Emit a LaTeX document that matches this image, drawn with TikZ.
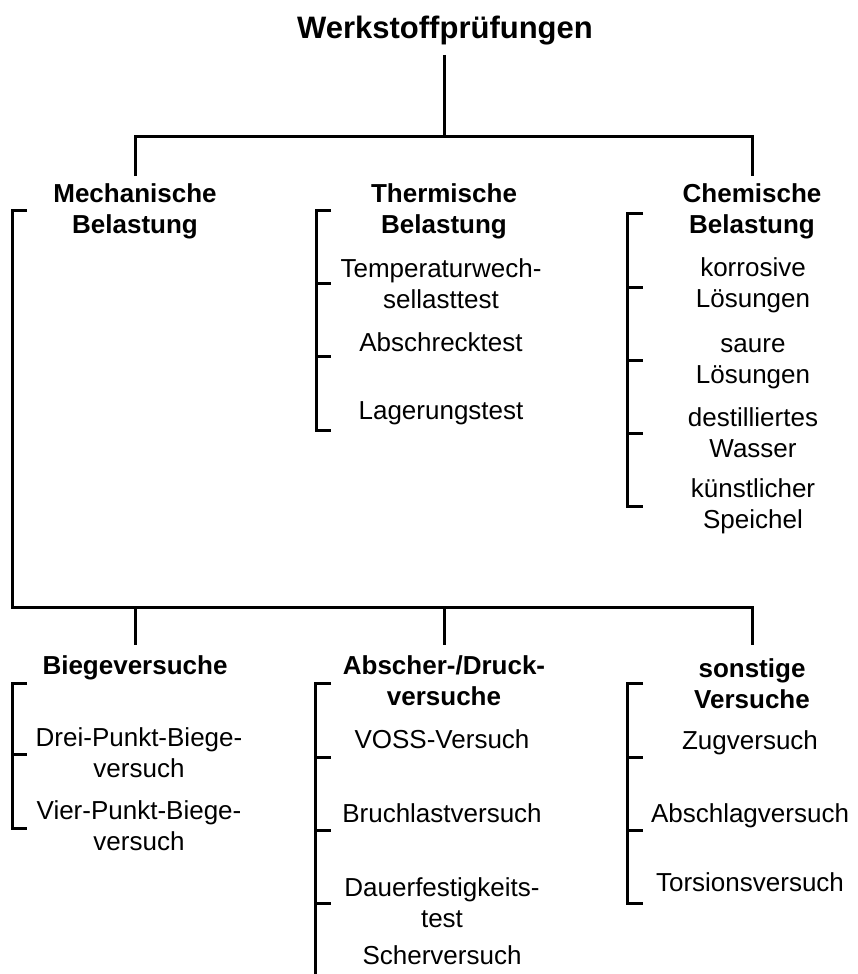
\documentclass[tikz,border=0pt]{standalone}
\usepackage{fontspec}
\setmainfont{Liberation Sans}
\begin{document}
\begin{tikzpicture}[x=1pt,y=-1pt,
  line/.style={line width=3pt,line join=miter,line cap=butt},
  txt/.style={anchor=base,inner sep=0pt,align=center,font=\fontsize{26}{31}\selectfont},
  head/.style={txt,font=\fontsize{26}{31}\selectfont\bfseries},
  ttl/.style={anchor=base,inner sep=0pt,font=\fontsize{31}{36}\selectfont\bfseries}]
\useasboundingbox (0,0) rectangle (858,974);
% title
\node[ttl] (title) at (445,38) {Werkstoffprüfungen};
% headings (base anchor = baseline of last line)
\node[head] (mech) at (135,233) {Mechanische\\Belastung};
\node[head] (therm) at (444,233) {Thermische\\Belastung};
\node[head] (chem) at (752,233) {Chemische\\Belastung};
\node[head] (biege) at (135,674) {Biegeversuche};
\node[head] (absch) at (444,705) {Abscher-/Druck-\\versuche};
\node[head] (sonst) at (752,708) {sonstige\\Versuche};
% thermische
\node[txt] (t1) at (441,308) {Temperaturwech-\\sellasttest};
\node[txt] (t2) at (441,351) {Abschrecktest};
\node[txt] (t3) at (441,419) {Lagerungstest};
% chemische
\node[txt] (c1) at (753,307) {korrosive\\Lösungen};
\node[txt] (c2) at (753,383) {saure\\Lösungen};
\node[txt] (c3) at (753,457) {destilliertes\\Wasser};
\node[txt] (c4) at (753,528) {künstlicher\\Speichel};
% biege
\node[txt] (b1) at (139,777) {Drei-Punkt-Biege-\\versuch};
\node[txt] (b2) at (139,850) {Vier-Punkt-Biege-\\versuch};
% abscher
\node[txt] (a1) at (442,748) {VOSS-Versuch};
\node[txt] (a2) at (442,822) {Bruchlastversuch};
\node[txt] (a3) at (442,927) {Dauerfestigkeits-\\test};
\node[txt] (a4) at (442,964) {Scherversuch};
% sonstige
\node[txt] (s1) at (750,749) {Zugversuch};
\node[txt] (s2) at (750,822) {Abschlagversuch};
\node[txt] (s3) at (750,891) {Torsionsversuch};
% junction coordinates
\coordinate (top) at (444,55);
\coordinate (j0) at (444,136);
\coordinate (jl) at (135,136);
\coordinate (jr) at (752,136);
\coordinate (ml) at (135,176);
\coordinate (mr) at (752,176);
% upper tree
\draw[line] (top) -- (j0);
\draw[line] (ml) -- (jl) -- (jr) -- (mr);
% mechanische bracket and lower tree
\coordinate (mk) at (27,210);
\coordinate (mc) at (12,210);
\coordinate (mb) at (12,607);
\coordinate (lr) at (752,607);
\coordinate (lre) at (752,645);
\coordinate (lm) at (444,607);
\coordinate (lme) at (444,645);
\coordinate (ll) at (135,607);
\coordinate (lle) at (135,645);
\draw[line] (mk) -- (mc) -- (mb) -- (lr) -- (lre);
\draw[line] (lm) -- (lme);
\draw[line] (ll) -- (lle);
% thermische bracket
\draw[line] (331,210) -- (316,210) -- (316,430) -- (331,430);
\draw[line] (316,283) -- (331,283);
\draw[line] (316,356) -- (331,356);
% chemische bracket
\draw[line] (643,213) -- (627,213) -- (627,506) -- (643,506);
\foreach \y in {287,360,433} \draw[line] (627,\y) -- (643,\y);
% biege bracket
\draw[line] (27,683) -- (12,683) -- (12,828) -- (27,828);
\draw[line] (12,754) -- (27,754);
% abscher bracket
\draw[line] (331,683) -- (315,683) -- (315,976);
\foreach \y in {757,830,903} \draw[line] (315,\y) -- (331,\y);
% sonstige bracket
\draw[line] (643,683) -- (627,683) -- (627,903) -- (643,903);
\foreach \y in {757,830} \draw[line] (627,\y) -- (643,\y);
\end{tikzpicture}
\end{document}
